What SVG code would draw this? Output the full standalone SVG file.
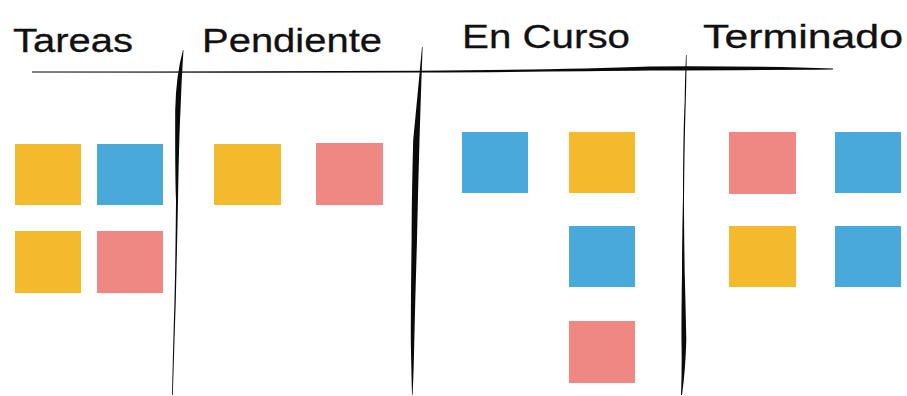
<svg xmlns="http://www.w3.org/2000/svg" width="907" height="396" viewBox="0 0 907 396">
  <style>
    .hdr { font-family: "Liberation Sans", "DejaVu Sans", sans-serif; font-size: 34px; fill: #111; stroke: #111; stroke-width: 0.3px; }
    .y { fill: #F2BA2C; }
    .b { fill: #49A9DA; }
    .p { fill: #EF8883; }
    .ink { fill: #0a0a0a; }
  </style>
  <rect x="0" y="0" width="907" height="396" fill="#ffffff"/>

  <g id="lines">
    <path class="ink" d="M32,71.6 Q250,71.2 420,70.8 Q560,69.6 650,66.4 Q760,65.8 833,68.6 L833,69.6 Q760,70.2 650,70.6 Q560,71.6 420,72.6 Q250,72.8 32,72.6 Z"/>
    <path class="ink" d="M183,50 Q176,75 175.2,110 Q175,180 176,200 Q175.5,260 174.5,300 Q173,350 172,395 L172.8,395 Q174.5,340 175.8,300 Q177,250 178,200 Q179,140 180.5,110 Q181.8,75 183.5,50 Z"/>
    <path class="ink" d="M422,47 Q419,80 413.2,140 Q411.6,200 411.6,240 Q410.8,300 410.8,340 Q411.3,370 412,395 L412.6,395 Q413.8,370 414.3,340 Q415.5,290 417,240 Q418,190 419.5,140 Q421.2,85 422.6,47 Z"/>
    <path class="ink" d="M686,55 Q685,75 684.7,100 Q683,140 683,197 Q682,240 682,273 Q681.3,320 681.5,340 Q682,370 681,395 L682,395 Q685.5,370 686.3,340 Q685.5,300 684.7,273 Q684,230 684,197 Q684.5,140 685.8,100 Q686.5,75 686.6,55 Z"/>
  </g>

  <g id="col-tareas">
    <text class="hdr" x="13" y="52" textLength="120" lengthAdjust="spacingAndGlyphs">Tareas</text>
    <rect class="y" x="15" y="144" width="66" height="61"/>
    <rect class="b" x="97" y="144" width="66" height="61"/>
    <rect class="y" x="15" y="231" width="66" height="62"/>
    <rect class="p" x="97" y="231" width="66" height="62"/>
  </g>

  <g id="col-pendiente">
    <text class="hdr" x="202" y="52" textLength="180" lengthAdjust="spacingAndGlyphs">Pendiente</text>
    <rect class="y" x="214" y="144" width="67" height="61"/>
    <rect class="p" x="316" y="143" width="67" height="62"/>
  </g>

  <g id="col-encurso">
    <text class="hdr" x="462" y="48" textLength="168" lengthAdjust="spacingAndGlyphs">En Curso</text>
    <rect class="b" x="462" y="132" width="66" height="61"/>
    <rect class="y" x="569" y="132" width="66" height="61"/>
    <rect class="b" x="569" y="226" width="66" height="61"/>
    <rect class="p" x="569" y="321" width="66" height="62"/>
  </g>

  <g id="col-terminado">
    <text class="hdr" x="703" y="48" textLength="200" lengthAdjust="spacingAndGlyphs">Terminado</text>
    <rect class="p" x="729" y="132" width="67" height="62"/>
    <rect class="b" x="835" y="132" width="66" height="61"/>
    <rect class="y" x="729" y="226" width="67" height="61"/>
    <rect class="b" x="835" y="226" width="66" height="61"/>
  </g>
</svg>
